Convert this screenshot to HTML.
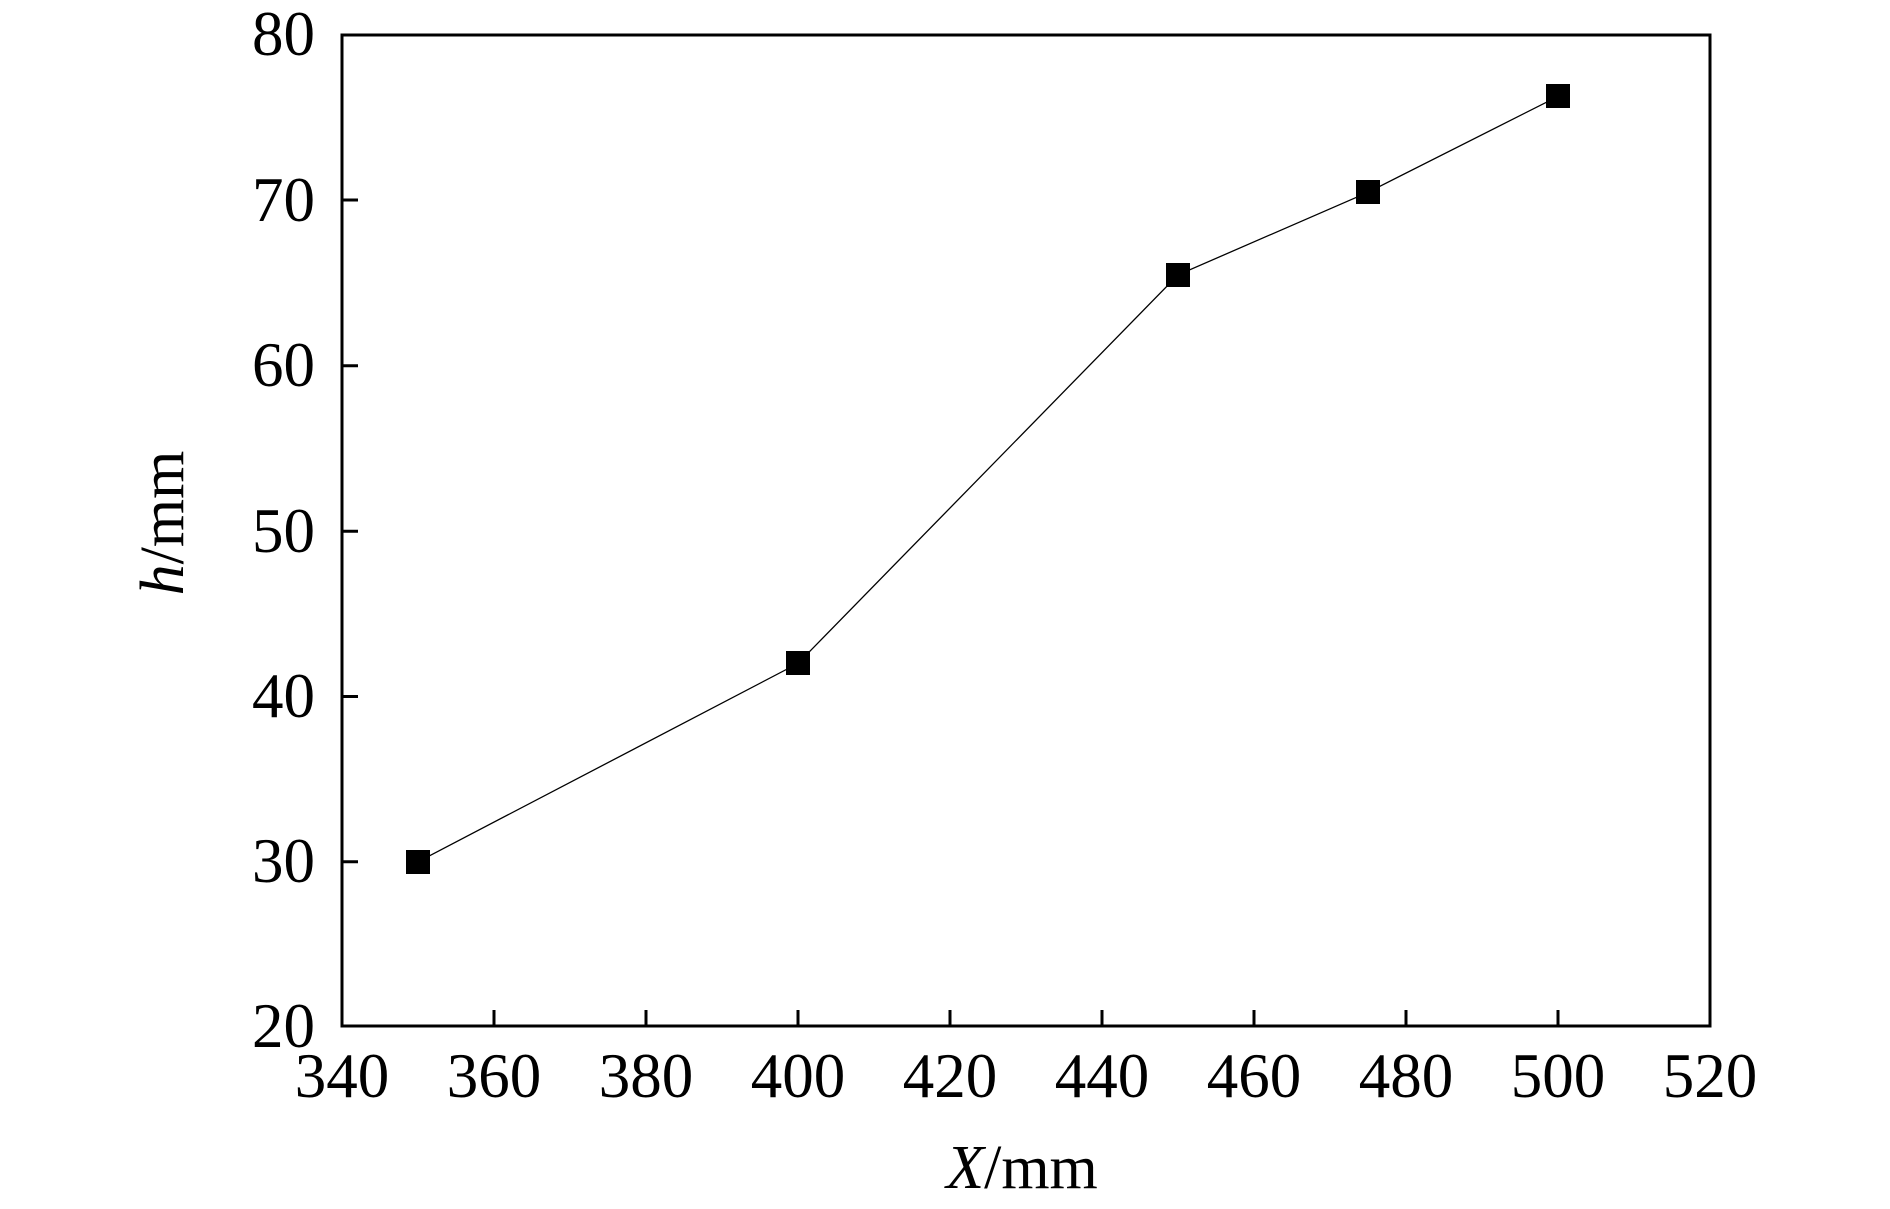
<!DOCTYPE html>
<html><head><meta charset="utf-8"><style>body{margin:0;background:#fff}svg{display:block}text{font-family:"Liberation Serif","Times New Roman",serif}</style></head><body>
<svg width="1890" height="1209" xmlns="http://www.w3.org/2000/svg">
<rect width="1890" height="1209" fill="#fff"/>
<g stroke="#000" stroke-width="3" fill="none">
<rect x="342" y="35" width="1368" height="991"/>
<path d="M494 1026v-16M646 1026v-16M798 1026v-16M950 1026v-16M1102 1026v-16M1254 1026v-16M1406 1026v-16M1558 1026v-16
M342 200h16M342 365.8h16M342 531.2h16M342 696.5h16M342 861.8h16"/>
</g>
<polyline fill="none" stroke="#000" stroke-width="1.3" points="418,861.8 798,663.4 1178,274.9 1368,192.3 1558,96.4"/>
<g fill="#000">
<rect x="406" y="850" width="24" height="24"/>
<rect x="786" y="651" width="24" height="24"/>
<rect x="1166" y="263" width="24" height="24"/>
<rect x="1356" y="180" width="24" height="24"/>
<rect x="1546" y="84" width="24" height="24"/>
</g>
<g font-size="63" text-anchor="end">
<text x="315" y="55">80</text>
<text x="315" y="221">70</text>
<text x="315" y="386">60</text>
<text x="315" y="552">50</text>
<text x="315" y="717">40</text>
<text x="315" y="882">30</text>
<text x="315" y="1047">20</text>
</g>
<g font-size="63" text-anchor="middle">
<text x="342" y="1097">340</text><text x="494" y="1097">360</text><text x="646" y="1097">380</text>
<text x="798" y="1097">400</text><text x="950" y="1097">420</text><text x="1102" y="1097">440</text>
<text x="1254" y="1097">460</text><text x="1406" y="1097">480</text><text x="1558" y="1097">500</text>
<text x="1710" y="1097">520</text>
</g>
<text x="1022" y="1188" font-size="62" text-anchor="middle"><tspan font-style="italic">X</tspan>/mm</text>
<text transform="translate(183,523) rotate(-90)" font-size="62" text-anchor="middle"><tspan font-style="italic">h</tspan>/mm</text>
</svg>
</body></html>
